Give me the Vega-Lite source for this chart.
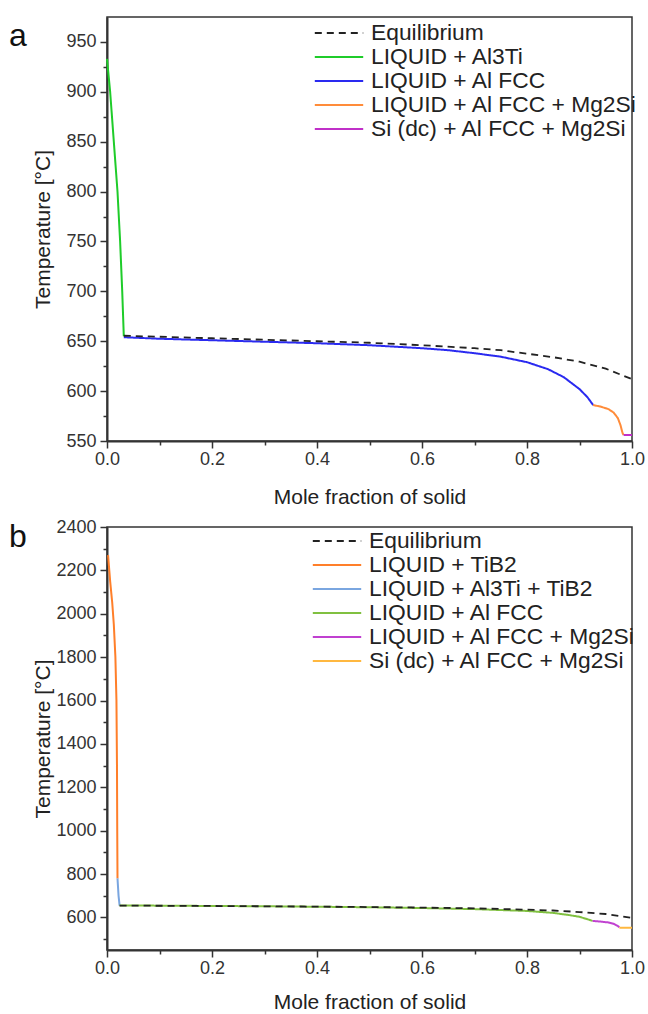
{
  "$schema": "https://vega.github.io/schema/vega-lite/v6.json",
  "background": "white",
  "padding": {"left": 8, "top": 16, "right": 10, "bottom": 5},
  "config": {
    "font": "Liberation Sans",
    "view": {"stroke": "#333", "strokeWidth": 1.5},
    "axis": {"domainColor": "#333", "domainWidth": 2, "tickColor": "#333", "tickWidth": 1.5, "labelColor": "#333", "titleColor": "#222", "labelFontSize": 18, "titleFontSize": 21, "titleFontWeight": "normal", "grid": false, "labelFont": "Liberation Sans", "titleFont": "Liberation Sans", "labelOverlap": false},
    "legend": {"labelFontSize": 22.8, "labelFont": "Liberation Sans", "labelColor": "#222", "labelLimit": 400, "symbolSize": 484, "symbolStrokeWidth": 2, "rowPadding": 0, "labelOffset": 20, "padding": 0, "orient": "none"},
    "concat": {"spacing": 9}
  },
  "resolve": {"scale": {"color": "independent", "strokeDash": "independent"}, "legend": {"color": "independent", "strokeDash": "independent"}},
  "datasets": {
    "a": [
      {"x": 0.032, "t": 655.5, "phase": "Equilibrium"},
      {"x": 0.1, "t": 654.5, "phase": "Equilibrium"},
      {"x": 0.2, "t": 653, "phase": "Equilibrium"},
      {"x": 0.3, "t": 651.5, "phase": "Equilibrium"},
      {"x": 0.4, "t": 650, "phase": "Equilibrium"},
      {"x": 0.5, "t": 648.5, "phase": "Equilibrium"},
      {"x": 0.6, "t": 646, "phase": "Equilibrium"},
      {"x": 0.7, "t": 643, "phase": "Equilibrium"},
      {"x": 0.75, "t": 641, "phase": "Equilibrium"},
      {"x": 0.8, "t": 637.5, "phase": "Equilibrium"},
      {"x": 0.85, "t": 634, "phase": "Equilibrium"},
      {"x": 0.9, "t": 629.5, "phase": "Equilibrium"},
      {"x": 0.95, "t": 622.5, "phase": "Equilibrium"},
      {"x": 1.0, "t": 612, "phase": "Equilibrium"},
      {"x": 0.0, "t": 933, "phase": "LIQUID + Al3Ti"},
      {"x": 0.006, "t": 900, "phase": "LIQUID + Al3Ti"},
      {"x": 0.013, "t": 850, "phase": "LIQUID + Al3Ti"},
      {"x": 0.02, "t": 800, "phase": "LIQUID + Al3Ti"},
      {"x": 0.025, "t": 750, "phase": "LIQUID + Al3Ti"},
      {"x": 0.029, "t": 700, "phase": "LIQUID + Al3Ti"},
      {"x": 0.032, "t": 655, "phase": "LIQUID + Al3Ti"},
      {"x": 0.032, "t": 654, "phase": "LIQUID + Al FCC"},
      {"x": 0.1, "t": 652.5, "phase": "LIQUID + Al FCC"},
      {"x": 0.2, "t": 651, "phase": "LIQUID + Al FCC"},
      {"x": 0.3, "t": 649.5, "phase": "LIQUID + Al FCC"},
      {"x": 0.4, "t": 648, "phase": "LIQUID + Al FCC"},
      {"x": 0.5, "t": 646, "phase": "LIQUID + Al FCC"},
      {"x": 0.6, "t": 643, "phase": "LIQUID + Al FCC"},
      {"x": 0.65, "t": 641, "phase": "LIQUID + Al FCC"},
      {"x": 0.7, "t": 638, "phase": "LIQUID + Al FCC"},
      {"x": 0.75, "t": 634.5, "phase": "LIQUID + Al FCC"},
      {"x": 0.8, "t": 629, "phase": "LIQUID + Al FCC"},
      {"x": 0.84, "t": 622, "phase": "LIQUID + Al FCC"},
      {"x": 0.87, "t": 614, "phase": "LIQUID + Al FCC"},
      {"x": 0.9, "t": 602, "phase": "LIQUID + Al FCC"},
      {"x": 0.915, "t": 594, "phase": "LIQUID + Al FCC"},
      {"x": 0.926, "t": 586, "phase": "LIQUID + Al FCC"},
      {"x": 0.926, "t": 586, "phase": "LIQUID + Al FCC + Mg2Si"},
      {"x": 0.94, "t": 584.5, "phase": "LIQUID + Al FCC + Mg2Si"},
      {"x": 0.955, "t": 582, "phase": "LIQUID + Al FCC + Mg2Si"},
      {"x": 0.965, "t": 578.5, "phase": "LIQUID + Al FCC + Mg2Si"},
      {"x": 0.973, "t": 573, "phase": "LIQUID + Al FCC + Mg2Si"},
      {"x": 0.978, "t": 566, "phase": "LIQUID + Al FCC + Mg2Si"},
      {"x": 0.982, "t": 558, "phase": "LIQUID + Al FCC + Mg2Si"},
      {"x": 0.984, "t": 556, "phase": "LIQUID + Al FCC + Mg2Si"},
      {"x": 0.984, "t": 556, "phase": "Si (dc) + Al FCC + Mg2Si"},
      {"x": 1.0, "t": 556, "phase": "Si (dc) + Al FCC + Mg2Si"}
    ],
    "b": [
      {"x": 0.024, "t": 655, "phase": "Equilibrium"},
      {"x": 0.1, "t": 654, "phase": "Equilibrium"},
      {"x": 0.2, "t": 653, "phase": "Equilibrium"},
      {"x": 0.3, "t": 651.5, "phase": "Equilibrium"},
      {"x": 0.4, "t": 650, "phase": "Equilibrium"},
      {"x": 0.5, "t": 648, "phase": "Equilibrium"},
      {"x": 0.6, "t": 645.5, "phase": "Equilibrium"},
      {"x": 0.7, "t": 642, "phase": "Equilibrium"},
      {"x": 0.8, "t": 636, "phase": "Equilibrium"},
      {"x": 0.85, "t": 632, "phase": "Equilibrium"},
      {"x": 0.9, "t": 625, "phase": "Equilibrium"},
      {"x": 0.95, "t": 616, "phase": "Equilibrium"},
      {"x": 1.0, "t": 598, "phase": "Equilibrium"},
      {"x": 0.002, "t": 2270, "phase": "LIQUID + TiB2"},
      {"x": 0.006, "t": 2150, "phase": "LIQUID + TiB2"},
      {"x": 0.01, "t": 2050, "phase": "LIQUID + TiB2"},
      {"x": 0.013, "t": 1950, "phase": "LIQUID + TiB2"},
      {"x": 0.016, "t": 1800, "phase": "LIQUID + TiB2"},
      {"x": 0.018, "t": 1600, "phase": "LIQUID + TiB2"},
      {"x": 0.019, "t": 1300, "phase": "LIQUID + TiB2"},
      {"x": 0.0195, "t": 1000, "phase": "LIQUID + TiB2"},
      {"x": 0.02, "t": 780, "phase": "LIQUID + TiB2"},
      {"x": 0.02, "t": 780, "phase": "LIQUID + Al3Ti + TiB2"},
      {"x": 0.022, "t": 700, "phase": "LIQUID + Al3Ti + TiB2"},
      {"x": 0.024, "t": 655, "phase": "LIQUID + Al3Ti + TiB2"},
      {"x": 0.024, "t": 655, "phase": "LIQUID +  Al FCC"},
      {"x": 0.1, "t": 654.5, "phase": "LIQUID +  Al FCC"},
      {"x": 0.2, "t": 653, "phase": "LIQUID +  Al FCC"},
      {"x": 0.3, "t": 651.5, "phase": "LIQUID +  Al FCC"},
      {"x": 0.4, "t": 649.5, "phase": "LIQUID +  Al FCC"},
      {"x": 0.5, "t": 647, "phase": "LIQUID +  Al FCC"},
      {"x": 0.6, "t": 643.5, "phase": "LIQUID +  Al FCC"},
      {"x": 0.7, "t": 638.5, "phase": "LIQUID +  Al FCC"},
      {"x": 0.8, "t": 630, "phase": "LIQUID +  Al FCC"},
      {"x": 0.85, "t": 621, "phase": "LIQUID +  Al FCC"},
      {"x": 0.88, "t": 611, "phase": "LIQUID +  Al FCC"},
      {"x": 0.9, "t": 603, "phase": "LIQUID +  Al FCC"},
      {"x": 0.915, "t": 592, "phase": "LIQUID +  Al FCC"},
      {"x": 0.925, "t": 584, "phase": "LIQUID +  Al FCC"},
      {"x": 0.925, "t": 584, "phase": "LIQUID +  Al FCC + Mg2Si"},
      {"x": 0.94, "t": 581, "phase": "LIQUID +  Al FCC + Mg2Si"},
      {"x": 0.955, "t": 577, "phase": "LIQUID +  Al FCC + Mg2Si"},
      {"x": 0.965, "t": 571, "phase": "LIQUID +  Al FCC + Mg2Si"},
      {"x": 0.972, "t": 562, "phase": "LIQUID +  Al FCC + Mg2Si"},
      {"x": 0.976, "t": 555, "phase": "LIQUID +  Al FCC + Mg2Si"},
      {"x": 0.976, "t": 553, "phase": "Si (dc) + Al FCC + Mg2Si"},
      {"x": 1.0, "t": 553, "phase": "Si (dc) + Al FCC + Mg2Si"}
    ]
  },
  "vconcat": [
    {
      "width": 525,
      "height": 424,
      "title": {"text": "a", "anchor": "start", "frame": "bounds", "fontSize": 32, "fontWeight": "normal", "offset": -36, "dx": -23, "color": "#111"},
      "data": {"name": "a"},
      "encoding": {
        "x": {"field": "x", "type": "quantitative", "scale": {"domain": [0, 1], "nice": false},
          "axis": {"title": "Mole fraction of solid", "values": [0, 0.1, 0.2, 0.3, 0.4, 0.5, 0.6, 0.7, 0.8, 0.9, 1.0],
            "labelExpr": "round(datum.value*10)%2===0 ? format(datum.value,'.1f') : ''",
            "tickSize": {"condition": {"test": "round(datum.value*10)%2===0", "value": 7}, "value": 4},
            "labelFlush": false, "titlePadding": 18}},
        "y": {"field": "t", "type": "quantitative", "scale": {"domain": [550, 975], "nice": false, "zero": false},
          "axis": {"title": "Temperature [°C]", "values": [550, 575, 600, 625, 650, 675, 700, 725, 750, 775, 800, 825, 850, 875, 900, 925, 950],
            "labelExpr": "datum.value % 50 === 0 ? datum.value : ''",
            "tickSize": {"condition": {"test": "datum.value % 50 === 0", "value": 7}, "value": 4},
            "minExtent": 50, "maxExtent": 50, "titlePadding": 4, "labelPadding": 4}}
      },
      "layer": [
        {"transform": [{"filter": "datum.phase !== 'Equilibrium'"}],
         "mark": {"type": "line", "strokeWidth": 2},
         "encoding": {
           "color": {"field": "phase", "type": "nominal", "scale": {"domain": ["Equilibrium", "LIQUID + Al3Ti", "LIQUID + Al FCC", "LIQUID + Al FCC + Mg2Si", "Si (dc) + Al FCC + Mg2Si"], "range": ["#222222", "#1fcc2a", "#2a2af0", "#ff8c3a", "#c030c8"]}, "legend": {"title": null, "symbolType": "M-2.2,0H2.2", "orient": "none", "legendX": 220, "legendY": 4}},
           "strokeDash": {"field": "phase", "type": "nominal", "scale": {"domain": ["Equilibrium", "LIQUID + Al3Ti", "LIQUID + Al FCC", "LIQUID + Al FCC + Mg2Si", "Si (dc) + Al FCC + Mg2Si"], "range": [[7, 5], [1, 0], [1, 0], [1, 0], [1, 0]]}, "legend": {"title": null, "symbolType": "M-2.2,0H2.2", "orient": "none", "legendX": 220, "legendY": 4}}
         }},
        {"transform": [{"filter": "datum.phase === 'Equilibrium'"}],
         "mark": {"type": "line", "strokeWidth": 1.8},
         "encoding": {
           "color": {"field": "phase", "type": "nominal"},
           "strokeDash": {"field": "phase", "type": "nominal"}
         }}
      ]
    },
    {
      "width": 525,
      "height": 423,
      "title": {"text": "b", "anchor": "start", "frame": "bounds", "fontSize": 32, "fontWeight": "normal", "offset": -36, "dx": -23, "color": "#111"},
      "data": {"name": "b"},
      "encoding": {
        "x": {"field": "x", "type": "quantitative", "scale": {"domain": [0, 1], "nice": false},
          "axis": {"title": "Mole fraction of solid", "values": [0, 0.1, 0.2, 0.3, 0.4, 0.5, 0.6, 0.7, 0.8, 0.9, 1.0],
            "labelExpr": "round(datum.value*10)%2===0 ? format(datum.value,'.1f') : ''",
            "tickSize": {"condition": {"test": "round(datum.value*10)%2===0", "value": 7}, "value": 4},
            "labelFlush": false, "titlePadding": 14}},
        "y": {"field": "t", "type": "quantitative", "scale": {"domain": [450, 2400], "nice": false, "zero": false},
          "axis": {"title": "Temperature [°C]", "values": [500, 600, 700, 800, 900, 1000, 1100, 1200, 1300, 1400, 1500, 1600, 1700, 1800, 1900, 2000, 2100, 2200, 2300, 2400],
            "labelExpr": "datum.value % 200 === 0 ? datum.value : ''",
            "tickSize": {"condition": {"test": "datum.value % 200 === 0", "value": 7}, "value": 4},
            "minExtent": 50, "maxExtent": 50, "titlePadding": 4, "labelPadding": 4}}
      },
      "layer": [
        {"transform": [{"filter": "datum.phase !== 'Equilibrium'"}],
         "mark": {"type": "line", "strokeWidth": 2},
         "encoding": {
           "color": {"field": "phase", "type": "nominal", "scale": {"domain": ["Equilibrium", "LIQUID + TiB2", "LIQUID + Al3Ti + TiB2", "LIQUID +  Al FCC", "LIQUID +  Al FCC + Mg2Si", "Si (dc) + Al FCC + Mg2Si"], "range": ["#222222", "#ff7f2a", "#7aa6e0", "#80c040", "#c040d0", "#ffb840"]}, "legend": {"title": null, "symbolType": "M-2.2,0H2.2", "orient": "none", "legendX": 218, "legendY": 2}},
           "strokeDash": {"field": "phase", "type": "nominal", "scale": {"domain": ["Equilibrium", "LIQUID + TiB2", "LIQUID + Al3Ti + TiB2", "LIQUID +  Al FCC", "LIQUID +  Al FCC + Mg2Si", "Si (dc) + Al FCC + Mg2Si"], "range": [[7, 5], [1, 0], [1, 0], [1, 0], [1, 0], [1, 0]]}, "legend": {"title": null, "symbolType": "M-2.2,0H2.2", "orient": "none", "legendX": 218, "legendY": 2}}
         }},
        {"transform": [{"filter": "datum.phase === 'Equilibrium'"}],
         "mark": {"type": "line", "strokeWidth": 1.8},
         "encoding": {
           "color": {"field": "phase", "type": "nominal"},
           "strokeDash": {"field": "phase", "type": "nominal"}
         }}
      ]
    }
  ]
}
